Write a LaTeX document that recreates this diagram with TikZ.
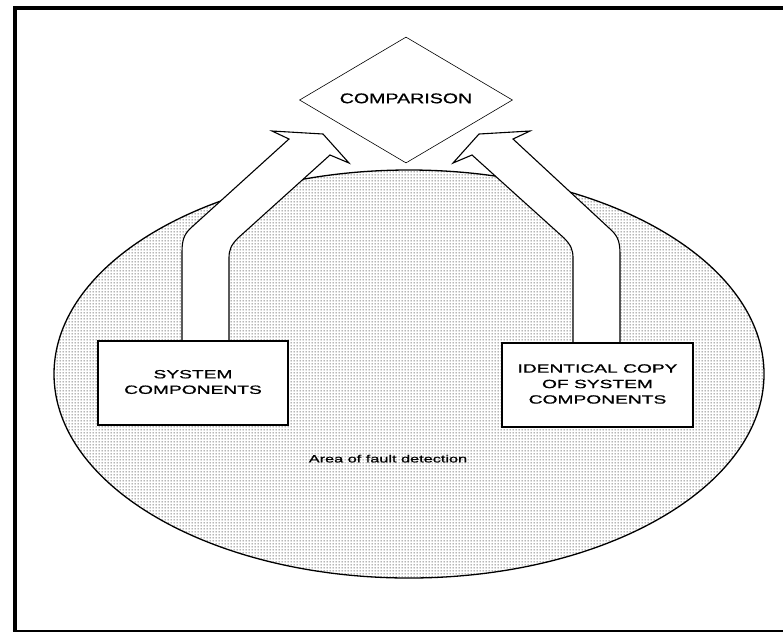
\documentclass[tikz,border=0pt]{standalone}
\usepackage{fontspec}
\usepackage{graphicx}
\setmainfont{Liberation Sans}
\newfontfamily\inkfont[FakeBold=0.7]{Liberation Sans}
\usetikzlibrary{shapes.geometric,patterns,calc}

% fine stipple used for the shaded region
\pgfdeclarepatternformonly{stipple}{\pgfqpoint{-1pt}{-1pt}}{\pgfqpoint{2pt}{2pt}}%
  {\pgfqpoint{3pt}{3pt}}{\pgfpathcircle{\pgfqpoint{0.5pt}{0.5pt}}{0.75pt}\pgfusepath{fill}}

% horizontally widened lettering
\newcommand{\widetext}[2]{\scalebox{#1}[1]{\begin{tabular}{@{}c@{}}#2\end{tabular}}}

\tikzset{
  frameline/.style={line width=4pt},
  areashape/.style={ellipse, draw, line width=1.3pt, pattern=stipple,
    pattern color=black!80, minimum width=710pt, minimum height=408pt, inner sep=0pt},
  decision/.style={diamond, draw, line width=0.6pt, fill=white, aspect=1.69,
    minimum width=213pt, minimum height=126pt, inner sep=0pt,
    font=\inkfont\fontsize{14}{16}\selectfont},
  compbox/.style={rectangle, draw, line width=1.4pt, fill=white, inner sep=0pt,
    minimum width=190pt, minimum height=84pt, align=center,
    font=\inkfont\fontsize{12}{15.5}\selectfont},
  blockarrow/.style={draw, line width=1.1pt, fill=white, line join=miter},
  notetext/.style={font=\inkfont\fontsize{10.5}{12}\selectfont}
}

\begin{document}
\begin{tikzpicture}[x=1pt, y=-1pt]
  \useasboundingbox (0,0) rectangle (783,633);

  % outer frame (open on the right)
  \draw[frameline] (783,7.5) -- (14.5,7.5) -- (14.5,631);
  \draw[line width=2pt] (12.5,631) -- (783,631);

  % shaded region
  \node[areashape] (area) at (409,374) {};
  \node[notetext] (areatext) at (388,460) {\widetext{1.55}{Area of fault detection}};

  % comparison stage
  \node[decision] (cmp) at (406,100) {\widetext{1.4}{COMPARISON}};

  % component blocks
  \node[compbox] (sys) at (193,383) {\widetext{1.6}{SYSTEM\\COMPONENTS}};
  \node[compbox, minimum width=191pt] (copy) at (597.5,385)
    {\widetext{1.6}{IDENTICAL COPY\\OF SYSTEM\\COMPONENTS}};

  % shaft foot positions
  \coordinate (sl) at (182,0);
  \coordinate (sr) at (229,0);
  \coordinate (cl) at (573,0);
  \coordinate (cr) at (620,0);

  % block arrow from the system components up to the comparison
  \draw[blockarrow]
    (sl |- sys.north) -- (182,252)
    .. controls (182,238) and (185,233) .. (193,226)
    -- (289,139) -- (272,131) -- (323,134) -- (349,163) -- (330,155)
    -- (238,238)
    .. controls (231,245) and (229,250) .. (229,258)
    -- (sr |- sys.north);

  % block arrow from the identical copy up to the comparison
  \draw[blockarrow]
    (cr |- copy.north) -- (620,254)
    .. controls (620,240) and (617,235) .. (609,228)
    -- (513,139) -- (530,131) -- (479,134) -- (453,163) -- (472,155)
    -- (564,238)
    .. controls (571,245) and (573,250) .. (573,258)
    -- (cl |- copy.north);

  % boxes redrawn on top of the arrow feet
  \node[compbox] at (sys) {\widetext{1.6}{SYSTEM\\COMPONENTS}};
  \node[compbox, minimum width=191pt] at (copy)
    {\widetext{1.6}{IDENTICAL COPY\\OF SYSTEM\\COMPONENTS}};
\end{tikzpicture}
\end{document}
